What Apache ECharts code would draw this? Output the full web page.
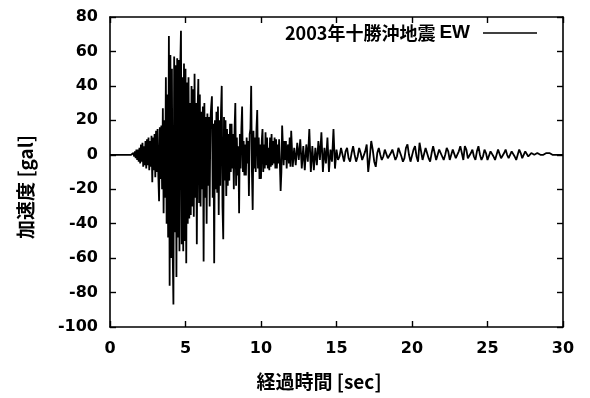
<!DOCTYPE html>
<html>
<head>
<meta charset="utf-8">
<script src="https://cdn.jsdelivr.net/npm/echarts@6/dist/echarts.min.js"></script>
<style>
  html, body { margin: 0; padding: 0; background: #fff; }
  #chart { width: 590px; height: 398px; }
</style>
</head>
<body>
<div id="chart"></div>
<script>
// 2003 Tokachi-oki earthquake, EW component acceleration [gal]
// Pre-event record, 0.0–1.4 s, every 0.1 s
const preEvent = [0, 0, 0, 0, 0, 0, 0, 0, 0, 0, 0, 0, 0, 0, 0];

// Strong motion, 1.5–11.95 s, every 0.05 s
const strongMotion = [
  0, 1, -1, 2, -2, 3, -3, 3, -4, 4,                                                   // 1.5 s
  -5, 6, -4, 7, -7, 5, -6, 8, -8, 9, -6, 10, -9, 8, -7, 11, -16, 10, -9, 12,          // 2 s
  -13, 14, -10, 15, -12, -27, 16, -14, 17, -20, 27, -34, 20, -25, 45, -40, 35, -48, 69, -76, // 3 s
  58, -60, 50, -55, -87, 57, -45, 52, -71, 56, -48, 55, -56, 50, 72, -52, 45, -56, 53, -50,  // 4 s
  50, -63, 42, -40, 45, -37, 30, -35, 40, -30, 38, -36, 47, -25, 30, -52, 25, 44, -28, 35,   // 5 s
  -30, 25, -20, 28, -62, 30, -25, 22, -40, 24, -18, 22, -30, 20, 28, 34, -25, 18, -63, 20,   // 6 s
  -20, 25, -22, 28, -35, 20, -18, 25, 40, -30, -49, 22, -15, 20, -24, 15, -18, 12, -15, 18,  // 7 s
  -10, 18, -8, 12, -20, 15, 30, -18, 10, -12, 5, -34, 12, -8, 15, 28, -10, 8, -12, 6,        // 8 s
  -12, 10, -5, 8, -24, 12, 15, 40, -10, -32, 14, -8, 10, -10, 15, 26, -8, 10, -14, 6,        // 9 s
  -14, 8, 15, -10, 6, -8, 13, -6, 10, -8, 4, -9, 10, -7, 12, -6, 8, -5, 10, -8,              // 10 s
  9, -8, 6, -5, 9, -5, -21, -10, 17, 5, -6, 8, -3, 8, -8, 4, 6, -5, 10, -7                   // 11 s
];

// Coda, 12.0–30.0 s, every 0.1 s
const coda = [
  14, -7, 4, -6, 7, -3, 9, -8, 5, -9,          // 12 s
  6, -4, 15, -10, 5, -9, 4, -6, 8, -3,         // 13 s
  13, -10, 4, -5, 10, -10, 3, -4, 15, -8,      // 14 s
  3, -3, -1, 4, 0, -4, 2, 4, -2, -4,           // 15 s
  1, 5, 0, -4, -1, 4, 1, -3, -4, 2,            // 16 s
  6, -10, -2, 8, 3, -4, -7, 1, 4, 0,           // 17 s
  -3, -1, 3, 2, -2, -3, 1, 3, 0, -3,           // 18 s
  -1, 4, 5, -1, -4, -2, 4, 6, 0, -4,           // 19 s
  -3, 3, 5, -1, -4, 7, 2, -3, -2, 4,           // 20 s
  3, -2, -4, 1, 5, 1, -3, -2, 3, 4,            // 21 s
  -1, -3, 0, 4, 2, -3, -2, 3, 3, -2,           // 22 s
  -3, 2, 5, 1, -3, 5, 3, -2, -3, 1,            // 23 s
  3, -1, -3, 2, 5, 0, -3, -1, 3, 1,            // 24 s
  -3, -2, 2, 3, -1, -3, 0, 3, 2, -2,           // 25 s
  -3, 1, 3, 0, -2, -2, 2, 3, -1, -3,           // 26 s
  0, 3, 1, -2, -1, 2, 3, -1, -2, 1,            // 27 s
  2, 0, -1, 1, 1, 0, 1, 0, 1, 1,               // 28 s
  0, 1, 0, 0, 1, 0, 0, 0, 0, 0,                // 29 s
  0                                            // 30 s
];

// record pieces: start time [s], sample interval [s], samples
const recordParts = [
  { start: 0.0, dt: 0.1, samples: preEvent },
  { start: 1.5, dt: 0.05, samples: strongMotion },
  { start: 12.0, dt: 0.1, samples: coda }
];

const TIME_RANGE = [0, 30];
const TIME_STEP = 5;
const ACCEL_RANGE = [-100, 80];
const ACCEL_STEP = 20;

const SERIES_NAME = '2003年十勝沖地震';
const COMPONENT = 'EW';
const X_TITLE = '経過時間 [sec]';
const Y_TITLE = '加速度 [gal]';

const seriesData = [];
recordParts.forEach(part => {
  part.samples.forEach((v, i) => {
    seriesData.push([Math.round((part.start + i * part.dt) * 1000) / 1000, v]);
  });
});

const labelFont = { color: '#000', fontFamily: 'DejaVu Sans', fontWeight: 'bold', fontSize: 16 };
const titleFont = 'bold 19px "Noto Sans CJK JP"';

// plot frame on all four sides, ticks pointing inward
const frame = { show: true, onZero: false, lineStyle: { color: '#000', width: 1.6 } };
const innerTicks = { show: true, inside: true, length: 6, lineStyle: { color: '#000', width: 1.4 } };

const GRID = { left: 110, right: 27, top: 17, bottom: 71 };

const chart = echarts.init(document.getElementById('chart'), null, { renderer: 'canvas' });
chart.setOption({
  animation: false,
  backgroundColor: '#fff',
  grid: GRID,
  xAxis: [
    {
      type: 'value', min: TIME_RANGE[0], max: TIME_RANGE[1], interval: TIME_STEP,
      position: 'bottom',
      axisLine: frame, axisTick: innerTicks, splitLine: { show: false },
      axisLabel: Object.assign({ margin: 14 }, labelFont)
    },
    {
      type: 'value', min: TIME_RANGE[0], max: TIME_RANGE[1], interval: TIME_STEP,
      position: 'top',
      axisLine: frame, axisTick: innerTicks, splitLine: { show: false },
      axisLabel: { show: false }
    }
  ],
  yAxis: [
    {
      type: 'value', min: ACCEL_RANGE[0], max: ACCEL_RANGE[1], interval: ACCEL_STEP,
      position: 'left',
      axisLine: frame, axisTick: innerTicks, splitLine: { show: false },
      axisLabel: Object.assign({ margin: 12 }, labelFont)
    },
    {
      type: 'value', min: ACCEL_RANGE[0], max: ACCEL_RANGE[1], interval: ACCEL_STEP,
      position: 'right',
      axisLine: frame, axisTick: innerTicks, splitLine: { show: false },
      axisLabel: { show: false }
    }
  ],
  series: [{
    name: SERIES_NAME + ' ' + COMPONENT,
    type: 'line',
    xAxisIndex: 0,
    yAxisIndex: 0,
    data: seriesData,
    showSymbol: false,
    sampling: null,
    lineStyle: { color: '#000', width: 1.8 },
    z: 3
  }],
  graphic: [
    {
      type: 'text', x: 319, y: 382,
      style: { text: X_TITLE, font: titleFont, fill: '#000', align: 'center', verticalAlign: 'middle' }
    },
    {
      type: 'text', x: 26, y: 187, rotation: Math.PI / 2,
      style: { text: Y_TITLE, font: titleFont, fill: '#000', align: 'center', verticalAlign: 'middle' }
    },
    {
      type: 'text', x: 285, y: 33,
      style: { text: SERIES_NAME, font: 'bold 18px "Noto Sans CJK JP"', fill: '#000', align: 'left', verticalAlign: 'middle' }
    },
    {
      type: 'text', x: 470, y: 33,
      style: { text: COMPONENT, font: 'bold 19px "Liberation Sans"', fill: '#000', align: 'right', verticalAlign: 'middle' }
    },
    {
      type: 'line',
      shape: { x1: 483, y1: 33, x2: 537, y2: 33 },
      style: { stroke: '#000', lineWidth: 1.5 }
    }
  ]
});
</script>
</body>
</html>
